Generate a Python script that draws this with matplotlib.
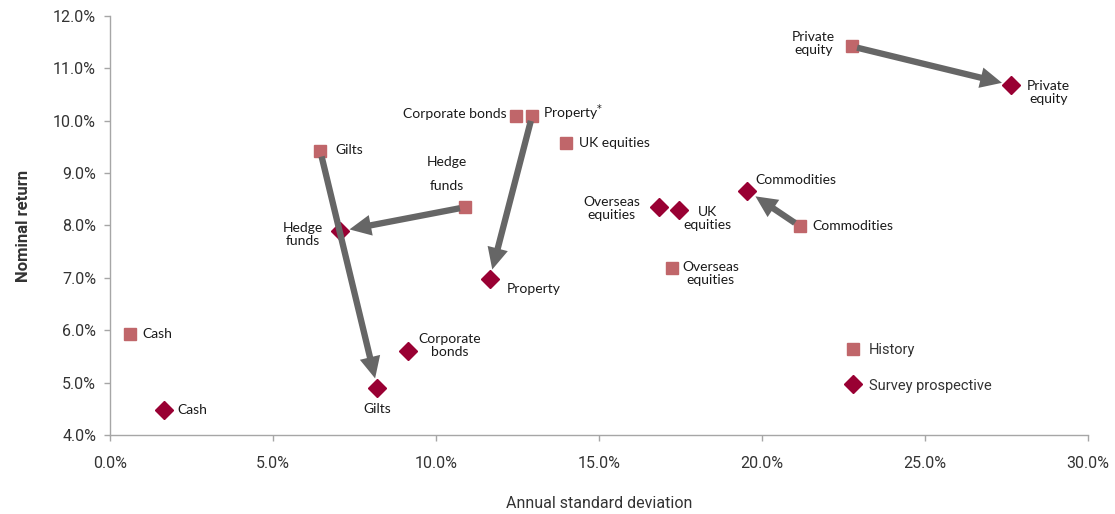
import matplotlib
matplotlib.use("Agg")
import matplotlib.pyplot as plt
from matplotlib.ticker import FuncFormatter

# Asset classes: historical vs survey-based prospective risk/return
assets = ["Cash", "Gilts", "Corporate bonds", "Property", "UK equities",
          "Hedge funds", "Overseas equities", "Commodities", "Private equity"]

hist_sd = [0.6, 6.45, 12.45, 12.95, 14.0, 10.9, 17.25, 21.15, 22.75]
hist_ret = [5.92, 9.42, 10.1, 10.1, 9.57, 8.35, 7.18, 7.99, 11.42]

surv_sd = [1.65, 8.2, 9.15, 11.65, 17.45, 7.05, 16.85, 19.55, 27.65]
surv_ret = [4.48, 4.9, 5.6, 6.98, 8.29, 7.89, 8.35, 8.66, 10.68]

# Assets whose move from history to survey view is drawn with an arrow
arrow_assets = ["Gilts", "Property", "Hedge funds", "Commodities", "Private equity"]

x_ticks = [0, 5, 10, 15, 20, 25, 30]
y_ticks = [4, 5, 6, 7, 8, 9, 10, 11, 12]

HIST_COLOR = "#c0666a"
SURV_COLOR = "#990033"
ARROW_COLOR = "#666666"
TEXT_COLOR = "#1a1a1a"

label_font = ["Lato", "DejaVu Sans"]
tick_font = ["Roboto", "DejaVu Sans"]

# label placement: (text, dx, dy in points, ha, va)
hist_labels = {
    "Cash": ("Cash", 9, 0, "left", "center"),
    "Gilts": ("Gilts", 11, 1, "left", "center"),
    "Corporate bonds": ("Corporate bonds", -7, 1, "right", "center"),
    "Property": ("Property$^{*}$", 8, 2, "left", "center"),
    "UK equities": ("UK equities", 9, 0, "left", "center"),
    "Hedge funds": ("Hedge\n\nfunds", -13, 11, "center", "bottom"),
    "Overseas equities": ("Overseas\nequities", 7, 5, "left", "top"),
    "Commodities": ("Commodities", 9, 0, "left", "center"),
    "Private equity": ("Private\nequity", -12, 2, "right", "center"),
}
surv_labels = {
    "Cash": ("Cash", 10, 0, "left", "center"),
    "Gilts": ("Gilts", 0, -11, "center", "top"),
    "Corporate bonds": ("Corporate\nbonds", 7, 4, "left", "center"),
    "Hedge funds": ("Hedge\nfunds", -12, -2, "right", "center"),
    "Property": ("Property", 12, -7, "left", "center"),
    "Overseas equities": ("Overseas\nequities", -14, -1, "right", "center"),
    "UK equities": ("UK\nequities", 3, -6, "left", "center"),
    "Commodities": ("Commodities", 6, 8, "left", "center"),
    "Private equity": ("Private\nequity", 11, -5, "left", "center"),
}

fig = plt.figure(figsize=(11.15, 5.14), dpi=100)
ax = fig.add_axes([0.0987, 0.1537, 0.8771, 0.8152])

ax.plot(hist_sd, hist_ret, ls="none", marker="s", ms=8, color=HIST_COLOR,
        mec=HIST_COLOR, label="History", zorder=3)
ax.plot(surv_sd, surv_ret, ls="none", marker="D", ms=9, color=SURV_COLOR,
        mec=SURV_COLOR, label="Survey prospective", zorder=3)

for i, name in enumerate(assets):
    txt, dx, dy, ha, va = hist_labels[name]
    ax.annotate(txt, (hist_sd[i], hist_ret[i]), xytext=(dx, dy),
                textcoords="offset points", ha=ha, va=va, multialignment="center",
                fontsize=10, family=label_font, color=TEXT_COLOR,
                linespacing=1.0 if "\n\n" in txt else 1.1)
    txt, dx, dy, ha, va = surv_labels[name]
    ax.annotate(txt, (surv_sd[i], surv_ret[i]), xytext=(dx, dy),
                textcoords="offset points", ha=ha, va=va, multialignment="center",
                fontsize=10, family=label_font, color=TEXT_COLOR, linespacing=1.1)

for name in arrow_assets:
    i = assets.index(name)
    ax.annotate("", xy=(surv_sd[i], surv_ret[i]), xytext=(hist_sd[i], hist_ret[i]),
                arrowprops=dict(arrowstyle="simple,head_length=1.3,head_width=1.25,tail_width=0.38",
                                mutation_scale=12, color=ARROW_COLOR, lw=0,
                                shrinkA=4, shrinkB=7),
                zorder=4)

ax.set_xlim(x_ticks[0], x_ticks[-1])
ax.set_ylim(y_ticks[0], y_ticks[-1])
ax.set_xticks(x_ticks)
ax.set_yticks(y_ticks)
pct = FuncFormatter(lambda v, _: f"{v:.1f}%")
ax.xaxis.set_major_formatter(pct)
ax.yaxis.set_major_formatter(pct)

for side in ("top", "right"):
    ax.spines[side].set_visible(False)
for side in ("left", "bottom"):
    ax.spines[side].set_color("#a6a6a6")
    ax.spines[side].set_linewidth(1.0)
ax.tick_params(axis="both", direction="out", length=4, width=1.0, color="#a6a6a6",
               labelsize=11.5, labelcolor="#333333", pad=6)
for lbl in ax.get_xticklabels() + ax.get_yticklabels():
    lbl.set_family(tick_font)
ax.tick_params(axis="x", pad=11)

ax.set_xlabel("Annual standard deviation", fontsize=11.5, family=tick_font,
              color="#333333", labelpad=18)
ax.set_ylabel("Nominal return", fontsize=12, family=tick_font, color="#333333",
              fontweight="bold", labelpad=16)

leg = ax.legend(loc="upper left", bbox_to_anchor=(0.737, 0.25), frameon=False,
                prop={"family": tick_font, "size": 10.5},
                handletextpad=0.5, labelspacing=1.45, handlelength=1.2,
                labelcolor="#333333")

fig.savefig("out.png", dpi=100, facecolor="white")
